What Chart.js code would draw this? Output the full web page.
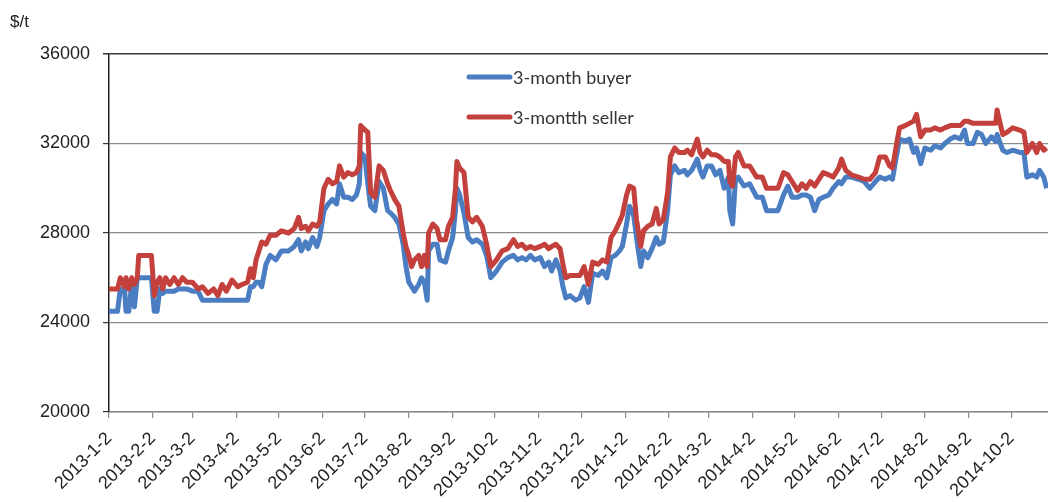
<!DOCTYPE html>
<html>
<head>
<meta charset="utf-8">
<script src="https://cdn.jsdelivr.net/npm/chart.js@4.4.1/dist/chart.umd.min.js"></script>
<style>
  html, body { margin: 0; padding: 0; background: #ffffff; }
  #wrap { width: 1048px; height: 502px; position: relative; }
</style>
</head>
<body>
<div id="wrap"><canvas id="chart" width="1048" height="502"></canvas></div>
<script>
// Series names as shown in the legend
const seriesNames = ['3-month buyer', '3-montth seller'];

// Calendar days after 2 Jan 2013 for each quote
const dayOffsets = [
  0, 6, 8, 11, 12, 14, 16, 18, 20, 21, 30, 32, 34, 36, 38, 40, 43, 46, 49, 52,
  55, 59, 63, 66, 70, 74, 77, 80, 83, 87, 91, 94, 98, 100, 102, 104, 106, 108, 111, 114,
  118, 122, 127, 131, 134, 136, 139, 141, 144, 147, 149, 152, 155, 158, 161, 163, 166, 169, 172, 175,
  177, 178, 181, 183, 185, 188, 191, 194, 197, 199, 202, 205, 208, 210, 212, 214, 216, 219, 221, 223,
  225, 226, 229, 232, 234, 238, 240, 243, 245, 246, 248, 251, 254, 257, 260, 264, 267, 270, 274, 278,
  282, 286, 289, 292, 295, 298, 301, 305, 308, 311, 313, 316, 319, 321, 323, 326, 330, 333, 336, 339,
  342, 346, 349, 352, 355, 358, 361, 363, 366, 368, 371, 373, 376, 378, 381, 384, 387, 389, 392, 395,
  397, 400, 403, 407, 409, 412, 416, 418, 420, 423, 426, 429, 432, 435, 438, 439, 441, 443, 445, 449,
  453, 458, 462, 465, 469, 473, 477, 480, 483, 487, 490, 493, 496, 499, 502, 505, 509, 512, 516, 518,
  521, 525, 530, 534, 538, 542, 545, 549, 552, 554, 557, 559, 563, 566, 569, 571, 574, 577, 581, 584,
  588, 591, 595, 598, 602, 605, 607, 611, 614, 617, 620, 624, 627, 628, 632, 635, 639, 644, 647, 649,
  653, 656, 658, 661, 663
];

// 3-month buyer price, $/t
const buyer = [
  24500, 24500, 25500, 25500, 24500, 24500, 25700, 24700, 26000, 26000, 26000, 24500, 24500, 25500, 25300, 25400, 25400, 25400, 25500, 25500,
  25500, 25400, 25400, 25000, 25000, 25000, 25000, 25000, 25000, 25000, 25000, 25000, 25000, 25600, 25600, 25800, 25800, 25600, 26600, 27000,
  26800, 27200, 27200, 27400, 27700, 27200, 27600, 27300, 27800, 27400, 27800, 29000, 29300, 29500, 29300, 30200, 29600, 29600, 29500, 29700,
  30200, 31600, 31400, 30200, 29200, 29000, 30300, 30000, 29000, 28900, 28700, 28400, 27500, 26500, 25800, 25600, 25400, 25700, 26000, 25800,
  25000, 27200, 27500, 27500, 26800, 26700, 27200, 27800, 29000, 30000, 29700, 28900, 27800, 27600, 27700, 27500, 27000, 26000, 26300, 26700,
  26900, 27000, 26800, 26900, 26800, 27000, 26800, 26900, 26500, 26700, 26300, 26800, 26300, 25600, 25100, 25200, 25000, 25100, 25600, 24900,
  26200, 26100, 26300, 26000, 26900, 27000, 27200, 27400, 28400, 29200, 28800, 27800, 26500, 27200, 26900, 27300, 27800, 27500, 27600, 29000,
  30600, 31000, 30700, 30800, 30600, 30800, 31300, 30800, 30500, 31000, 31000, 30600, 30800, 30000, 30500, 29000, 28400, 30400, 30500, 30100,
  30200, 29600, 29600, 29000, 29000, 29000, 29700, 30100, 29600, 29600, 29700, 29700, 29600, 29000, 29500, 29600, 29700, 30000, 30300, 30200,
  30500, 30500, 30400, 30300, 30000, 30300, 30500, 30400, 30500, 30400, 31500, 32200, 32100, 32200, 31600, 31800, 31100, 31800, 31700, 31900,
  31800, 32000, 32200, 32300, 32200, 32600, 32000, 32000, 32500, 32400, 32000, 32300, 32100, 32400, 31700, 31600, 31700, 31600, 31600, 30500,
  30600, 30500, 30800, 30500, 30000
];

// 3-month seller price, $/t
const seller = [
  25500, 25500, 26000, 25600, 26000, 25500, 26000, 25700, 26000, 27000, 27000, 25200, 25800, 26000, 25500, 26000, 25700, 26000, 25700, 26000,
  25800, 25800, 25500, 25600, 25300, 25500, 25200, 25700, 25400, 25900, 25600, 25700, 25800, 26400, 26000, 26800, 27200, 27600, 27500, 27900,
  27900, 28100, 28000, 28200, 28700, 28200, 28300, 28100, 28400, 28300, 28500, 30000, 30400, 30200, 30300, 31000, 30500, 30700, 30600, 30700,
  31000, 32800, 32600, 32500, 29800, 29600, 31000, 30800, 30200, 29900, 29500, 29200, 28000, 27400, 27000, 26500, 26800, 27000, 26500, 27000,
  26500, 28000, 28400, 28200, 27700, 27700, 28300, 28700, 30000, 31200, 30900, 30700, 28700, 28500, 28700, 28300, 27500, 26500, 26800, 27200,
  27300, 27700, 27400, 27500, 27300, 27400, 27300, 27400, 27500, 27300, 27400, 27500, 27300, 26600, 26000, 26100, 26100, 26100, 26500, 25700,
  26700, 26600, 26800, 26700, 27800, 28100, 28500, 28800, 29700, 30100, 30000, 28600, 27400, 28100, 28300, 28400, 29100, 28400, 28600, 29800,
  31400, 31800, 31600, 31600, 31700, 31500, 32200, 31600, 31400, 31700, 31500, 31500, 31400, 31200, 31200, 30300, 30100, 31400, 31600, 31000,
  31000, 30500, 30500, 30000, 30000, 30000, 30700, 30600, 30300, 29900, 30200, 30000, 30300, 30100, 30400, 30700, 30600, 30500, 30900, 31300,
  30800, 30600, 30500, 30400, 30400, 30700, 31400, 31400, 31000, 30900, 32000, 32700, 32800, 32900, 33000, 33300, 32300, 32600, 32600, 32700,
  32600, 32700, 32800, 32800, 32800, 33000, 33000, 32900, 32900, 32900, 32900, 32900, 32900, 33500, 32400, 32500, 32700, 32600, 32500, 31600,
  32000, 31600, 32000, 31700, 31800
];

// Month labels along the date axis
const tickLabels = [
  '2013-1-2', '2013-2-2', '2013-3-2', '2013-4-2', '2013-5-2', '2013-6-2', '2013-7-2', '2013-8-2',
  '2013-9-2', '2013-10-2', '2013-11-2', '2013-12-2', '2014-1-2', '2014-2-2', '2014-3-2', '2014-4-2',
  '2014-5-2', '2014-6-2', '2014-7-2', '2014-8-2', '2014-9-2', '2014-10-2'
];
const lastDay = 664;

// Value axis
const yMin = 20000;
const yMax = 36000;
const yStep = 4000;
const unitLabel = '$/t';

const BLUE = '#4A7DC2';
const RED = '#C3403C';
const TEXT = '#222222';
const AXIS_FONT = 'Arial, "Liberation Sans", sans-serif';

function dayOf(label) {
  const [y, m, d] = label.split('-').map(Number);
  return Math.round((Date.UTC(y, m - 1, d) - Date.UTC(2013, 0, 2)) / 86400000);
}
const tickDays = tickLabels.map(dayOf);

const makePoints = (vals) => vals.map((v, i) => ({ x: dayOffsets[i], y: v }));

// Unit caption above the value axis and the in-plot legend
const overlayPlugin = {
  id: 'overlay',
  afterDraw(chart) {
    const ctx = chart.ctx;
    ctx.save();
    ctx.fillStyle = TEXT;
    ctx.font = '17px ' + AXIS_FONT;
    ctx.textBaseline = 'middle';
    ctx.textAlign = 'left';
    ctx.fillText(unitLabel, 10, 22);

    const rows = [
      { label: chart.data.datasets[1].label, color: chart.data.datasets[1].borderColor, y: 77 },
      { label: chart.data.datasets[0].label, color: chart.data.datasets[0].borderColor, y: 117 }
    ];
    ctx.font = '18px Lato, "Open Sans", sans-serif';
    rows.forEach(r => {
      ctx.strokeStyle = r.color;
      ctx.lineWidth = 5;
      ctx.lineCap = 'round';
      ctx.beginPath();
      ctx.moveTo(469, r.y);
      ctx.lineTo(510, r.y);
      ctx.stroke();
      ctx.fillStyle = '#333333';
      ctx.fillText(r.label, 513, r.y + 1);
    });
    ctx.restore();
  }
};

new Chart(document.getElementById('chart'), {
  type: 'line',
  data: {
    datasets: [
      {
        label: seriesNames[1],
        data: makePoints(seller),
        borderColor: RED,
        borderWidth: 5,
        pointRadius: 0,
        tension: 0,
        borderJoinStyle: 'round',
        order: 0
      },
      {
        label: seriesNames[0],
        data: makePoints(buyer),
        borderColor: BLUE,
        borderWidth: 5,
        pointRadius: 0,
        tension: 0,
        borderJoinStyle: 'round',
        order: 1
      }
    ]
  },
  options: {
    responsive: false,
    animation: false,
    devicePixelRatio: 1,
    layout: { padding: { top: 54, right: 0, bottom: 0, left: 0 } },
    plugins: {
      legend: { display: false },
      tooltip: { enabled: false }
    },
    scales: {
      x: {
        type: 'linear',
        min: 0,
        max: lastDay,
        afterBuildTicks: (scale) => { scale.ticks = tickDays.map(v => ({ value: v })); },
        afterFit: (scale) => { scale.height = 90; },
        ticks: {
          autoSkip: false,
          minRotation: 45,
          maxRotation: 45,
          padding: 10,
          color: TEXT,
          font: { family: AXIS_FONT, size: 18 },
          callback: (value, index) => tickLabels[index]
        },
        grid: {
          drawOnChartArea: false,
          drawTicks: true,
          tickLength: 6,
          color: '#8a8a8a',
          lineWidth: 1.2
        },
        border: { color: '#8a8a8a', width: 1.5 }
      },
      y: {
        min: yMin,
        max: yMax,
        afterFit: (scale) => { scale.width = 109; },
        ticks: {
          stepSize: yStep,
          padding: 13,
          color: TEXT,
          font: { family: AXIS_FONT, size: 18 },
          callback: (value) => String(value)
        },
        grid: {
          color: (ctx) => (ctx.tick && ctx.tick.value === yMax) ? '#3a3a3a' : '#8a8a8a',
          lineWidth: (ctx) => (ctx.tick && ctx.tick.value === yMax) ? 1.5 : 1.2,
          tickColor: '#333333',
          tickLength: 6
        },
        border: { color: '#222222', width: 1.5 }
      }
    }
  },
  plugins: [overlayPlugin]
});
</script>
</body>
</html>
